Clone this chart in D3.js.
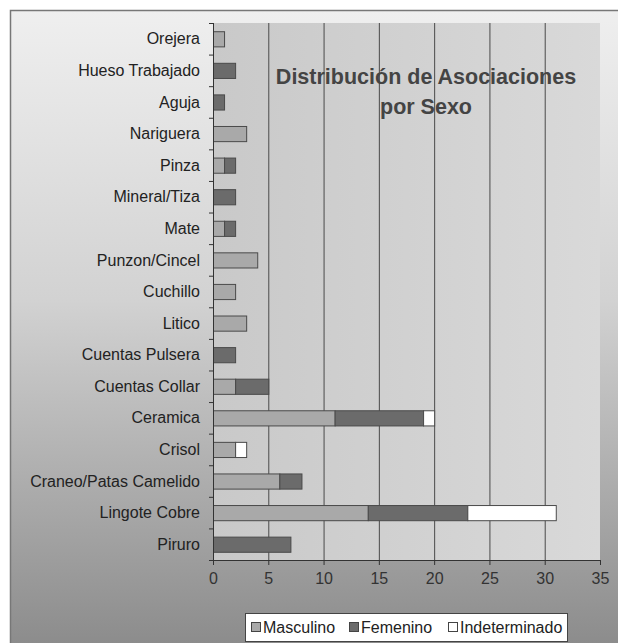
<!DOCTYPE html>
<html>
<head>
<meta charset="utf-8">
<script src="https://cdn.jsdelivr.net/npm/d3@7"></script>
<style>
  body { margin: 0; background: #fff; }
  svg { display: block; font-family: "Liberation Sans", Arial, sans-serif; }
</style>
</head>
<body>
<svg></svg>
<script>
// data

const categories = ["Orejera", "Hueso Trabajado", "Aguja", "Nariguera", "Pinza", "Mineral/Tiza", "Mate",
  "Punzon/Cincel", "Cuchillo", "Litico", "Cuentas Pulsera", "Cuentas Collar", "Ceramica", "Crisol",
  "Craneo/Patas Camelido", "Lingote Cobre", "Piruro"];
const masculino =     [1, 0, 0, 3, 1, 0, 1, 4, 2, 3, 0, 2, 11, 2, 6, 14, 0];
const femenino =      [0, 2, 1, 0, 1, 2, 1, 0, 0, 0, 2, 3, 8, 0, 2, 9, 7];
const indeterminado = [0, 0, 0, 0, 0, 0, 0, 0, 0, 0, 0, 0, 1, 1, 0, 8, 0];
const seriesNames = ["Masculino", "Femenino", "Indeterminado"];
const seriesColors = ["#a9a9a9", "#6b6b6b", "#ffffff"];
const xTicks = [0, 5, 10, 15, 20, 25, 30, 35];

// dimensions

const W = 618, H = 643;
const plot = { left: 213, right: 600, top: 23, bottom: 560 };

const svg = d3.select("svg").attr("width", W).attr("height", H);
const defs = svg.append("defs");

const bg = defs.append("linearGradient").attr("id", "bg").attr("x1", 0).attr("y1", 0).attr("x2", 0).attr("y2", 1);
bg.append("stop").attr("offset", "0%").attr("stop-color", "#efefef");
bg.append("stop").attr("offset", "45%").attr("stop-color", "#d2d2d2");
bg.append("stop").attr("offset", "100%").attr("stop-color", "#8a8a8a");

const pg = defs.append("linearGradient").attr("id", "pg").attr("x1", 0).attr("y1", 0).attr("x2", 1).attr("y2", 0);
pg.append("stop").attr("offset", "0%").attr("stop-color", "#c9c9c9");
pg.append("stop").attr("offset", "100%").attr("stop-color", "#d9d9d9");

// chart area
svg.append("rect").attr("x", 10.5).attr("y", 10.5).attr("width", W).attr("height", H)
   .attr("fill", "url(#bg)").attr("stroke", "#777").attr("stroke-width", 1.5);

// scales

const x = d3.scaleLinear().domain([0, 35]).range([plot.left, plot.right]);
const y = d3.scaleBand().domain(categories).range([plot.top, plot.bottom])
            .paddingInner(0.52).paddingOuter(0.26);

// plot area
svg.append("rect").attr("x", plot.left).attr("y", plot.top)
   .attr("width", plot.right - plot.left).attr("height", plot.bottom - plot.top)
   .attr("fill", "url(#pg)");

// gridlines
svg.selectAll(".grid").data(xTicks.slice(1, -1)).enter().append("line")
   .attr("x1", d => x(d) + 0.5).attr("x2", d => x(d) + 0.5)
   .attr("y1", plot.top).attr("y2", plot.bottom)
   .attr("stroke", "#4a4a4a").attr("stroke-width", 1);

// title
const title = svg.append("text").attr("x", 426).attr("y", 84)
   .attr("text-anchor", "middle").attr("font-size", 21.5).attr("font-weight", "bold")
   .attr("fill", "#444");
title.append("tspan").attr("x", 426).attr("dy", 0).text("Distribución de Asociaciones");
title.append("tspan").attr("x", 426).attr("dy", 30).text("por Sexo");

// stacked bars
const rows = categories.map((c, i) => ({ cat: c, Masculino: masculino[i], Femenino: femenino[i], Indeterminado: indeterminado[i] }));
const stacked = d3.stack().keys(seriesNames)(rows);

svg.selectAll(".series").data(stacked).enter().append("g")
   .attr("fill", (d, i) => seriesColors[i])
   .selectAll("rect").data(d => d.filter(p => p[1] > p[0])).enter().append("rect")
   .attr("x", d => x(d[0]) + 0.5)
   .attr("y", d => y(d.data.cat) + 0.5)
   .attr("width", d => x(d[1]) - x(d[0]))
   .attr("height", y.bandwidth())
   .attr("stroke", "#4a4a4a").attr("stroke-width", 1);

// y axis
const yAxis = svg.append("g").attr("transform", `translate(${plot.left},0)`);
yAxis.append("line").attr("x1", 0.5).attr("x2", 0.5).attr("y1", plot.top).attr("y2", plot.bottom)
     .attr("stroke", "#333");
yAxis.selectAll(".tk").data(d3.range(categories.length + 1)).enter().append("line")
     .attr("x1", -4).attr("x2", 0.5)
     .attr("y1", i => plot.top + i * y.step() + 0.5).attr("y2", i => plot.top + i * y.step() + 0.5)
     .attr("stroke", "#333");
yAxis.selectAll(".lbl").data(categories).enter().append("text")
     .attr("x", -13).attr("y", d => y(d) + y.bandwidth() / 2)
     .attr("dy", "0.35em").attr("text-anchor", "end")
     .attr("font-size", 16).attr("fill", "#222").text(d => d);

// x axis
const xAxis = svg.append("g").attr("transform", `translate(0,${plot.bottom})`)
   .call(d3.axisBottom(x).tickValues(xTicks).tickSize(5).tickPadding(8));
xAxis.select(".domain").attr("stroke", "#333");
xAxis.selectAll(".tick line").attr("stroke", "#333");
xAxis.selectAll(".tick text").attr("font-size", 16).attr("fill", "#333")
     .attr("font-family", "Liberation Sans, Arial, sans-serif");

// legend
const lg = svg.append("g");
lg.append("rect").attr("x", 245.5).attr("y", 613.5).attr("width", 322).attr("height", 28)
  .attr("fill", "#fff").attr("stroke", "#444");
const legendX = [251, 349, 448];
seriesNames.forEach((s, i) => {
  lg.append("rect").attr("x", legendX[i] + 0.5).attr("y", 622.5).attr("width", 9).attr("height", 9)
    .attr("fill", seriesColors[i]).attr("stroke", "#444");
  lg.append("text").attr("x", legendX[i] + 12).attr("y", 627).attr("dy", "0.35em")
    .attr("font-size", 16).attr("fill", "#222").text(s);
});
</script>
</body>
</html>
